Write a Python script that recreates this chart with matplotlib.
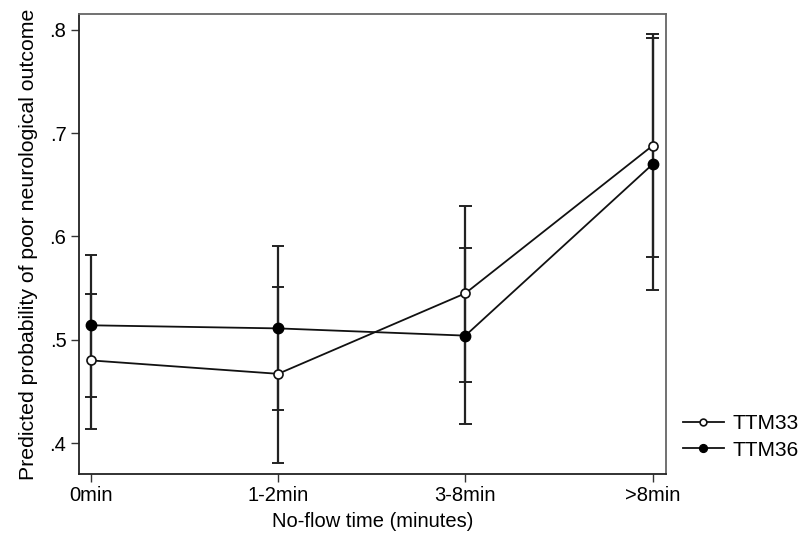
import matplotlib.pyplot as plt

# data
kategorier = ["0min", "1-2min", "3-8min", ">8min"]
ttm33 = [0.480, 0.467, 0.545, 0.688]
ttm33_lo = [0.414, 0.381, 0.459, 0.580]
ttm33_hi = [0.544, 0.551, 0.630, 0.796]
ttm36 = [0.514, 0.511, 0.504, 0.670]
ttm36_lo = [0.445, 0.432, 0.418, 0.548]
ttm36_hi = [0.582, 0.591, 0.589, 0.792]

plt.rcParams["font.family"] = ["Liberation Sans", "DejaVu Sans"]

fig = plt.figure(figsize=(8.05, 5.38), dpi=100)
ax = fig.add_axes([0.098, 0.119, 0.729, 0.855])

x = list(range(len(kategorier)))

# konfidensintervall
for lo, hi in ((ttm33_lo, ttm33_hi), (ttm36_lo, ttm36_hi)):
    ax.vlines(x, lo, hi, color="#222222", linewidth=1.6, zorder=1)
    ax.hlines(lo, [i - 0.033 for i in x], [i + 0.033 for i in x], color="#222222", linewidth=1.4, zorder=1)
    ax.hlines(hi, [i - 0.033 for i in x], [i + 0.033 for i in x], color="#222222", linewidth=1.4, zorder=1)

ax.plot(x, ttm33, color="#111111", linewidth=1.3, marker="o", markersize=6.5,
        markerfacecolor="white", markeredgecolor="#111111", markeredgewidth=1.2,
        label="TTM33", zorder=3)
ax.plot(x, ttm36, color="#111111", linewidth=1.3, marker="o", markersize=7.5,
        markerfacecolor="black", markeredgecolor="black", label="TTM36", zorder=3)

ax.set_xlim(-0.064, 3.07)
ax.set_ylim(0.37, 0.8155)
ax.set_xticks(x)
ax.set_xticklabels(kategorier)
ax.set_yticks([0.4, 0.5, 0.6, 0.7, 0.8])
ax.set_yticklabels([".4", ".5", ".6", ".7", ".8"])
ax.tick_params(axis="both", labelsize=14.5, length=6, width=1, color="#333333", pad=3)

ax.set_xlabel("No-flow time (minutes)", fontsize=14.5, labelpad=5)
ax.set_ylabel("Predicted probability of poor neurological outcome", fontsize=15.3, labelpad=8)

for side in ["left", "bottom"]:
    ax.spines[side].set_color("#222222")
    ax.spines[side].set_linewidth(1.3)
for side in ["top", "right"]:
    ax.spines[side].set_color("#666666")
    ax.spines[side].set_linewidth(1.3)

fig.legend(loc="center left", bbox_to_anchor=(0.848, 0.188), frameon=False,
           fontsize=15, handlelength=2.0, handletextpad=0.4, labelspacing=0.35,
           borderpad=0, borderaxespad=0, markerscale=0.75)

fig.savefig("out.png", dpi=100)
